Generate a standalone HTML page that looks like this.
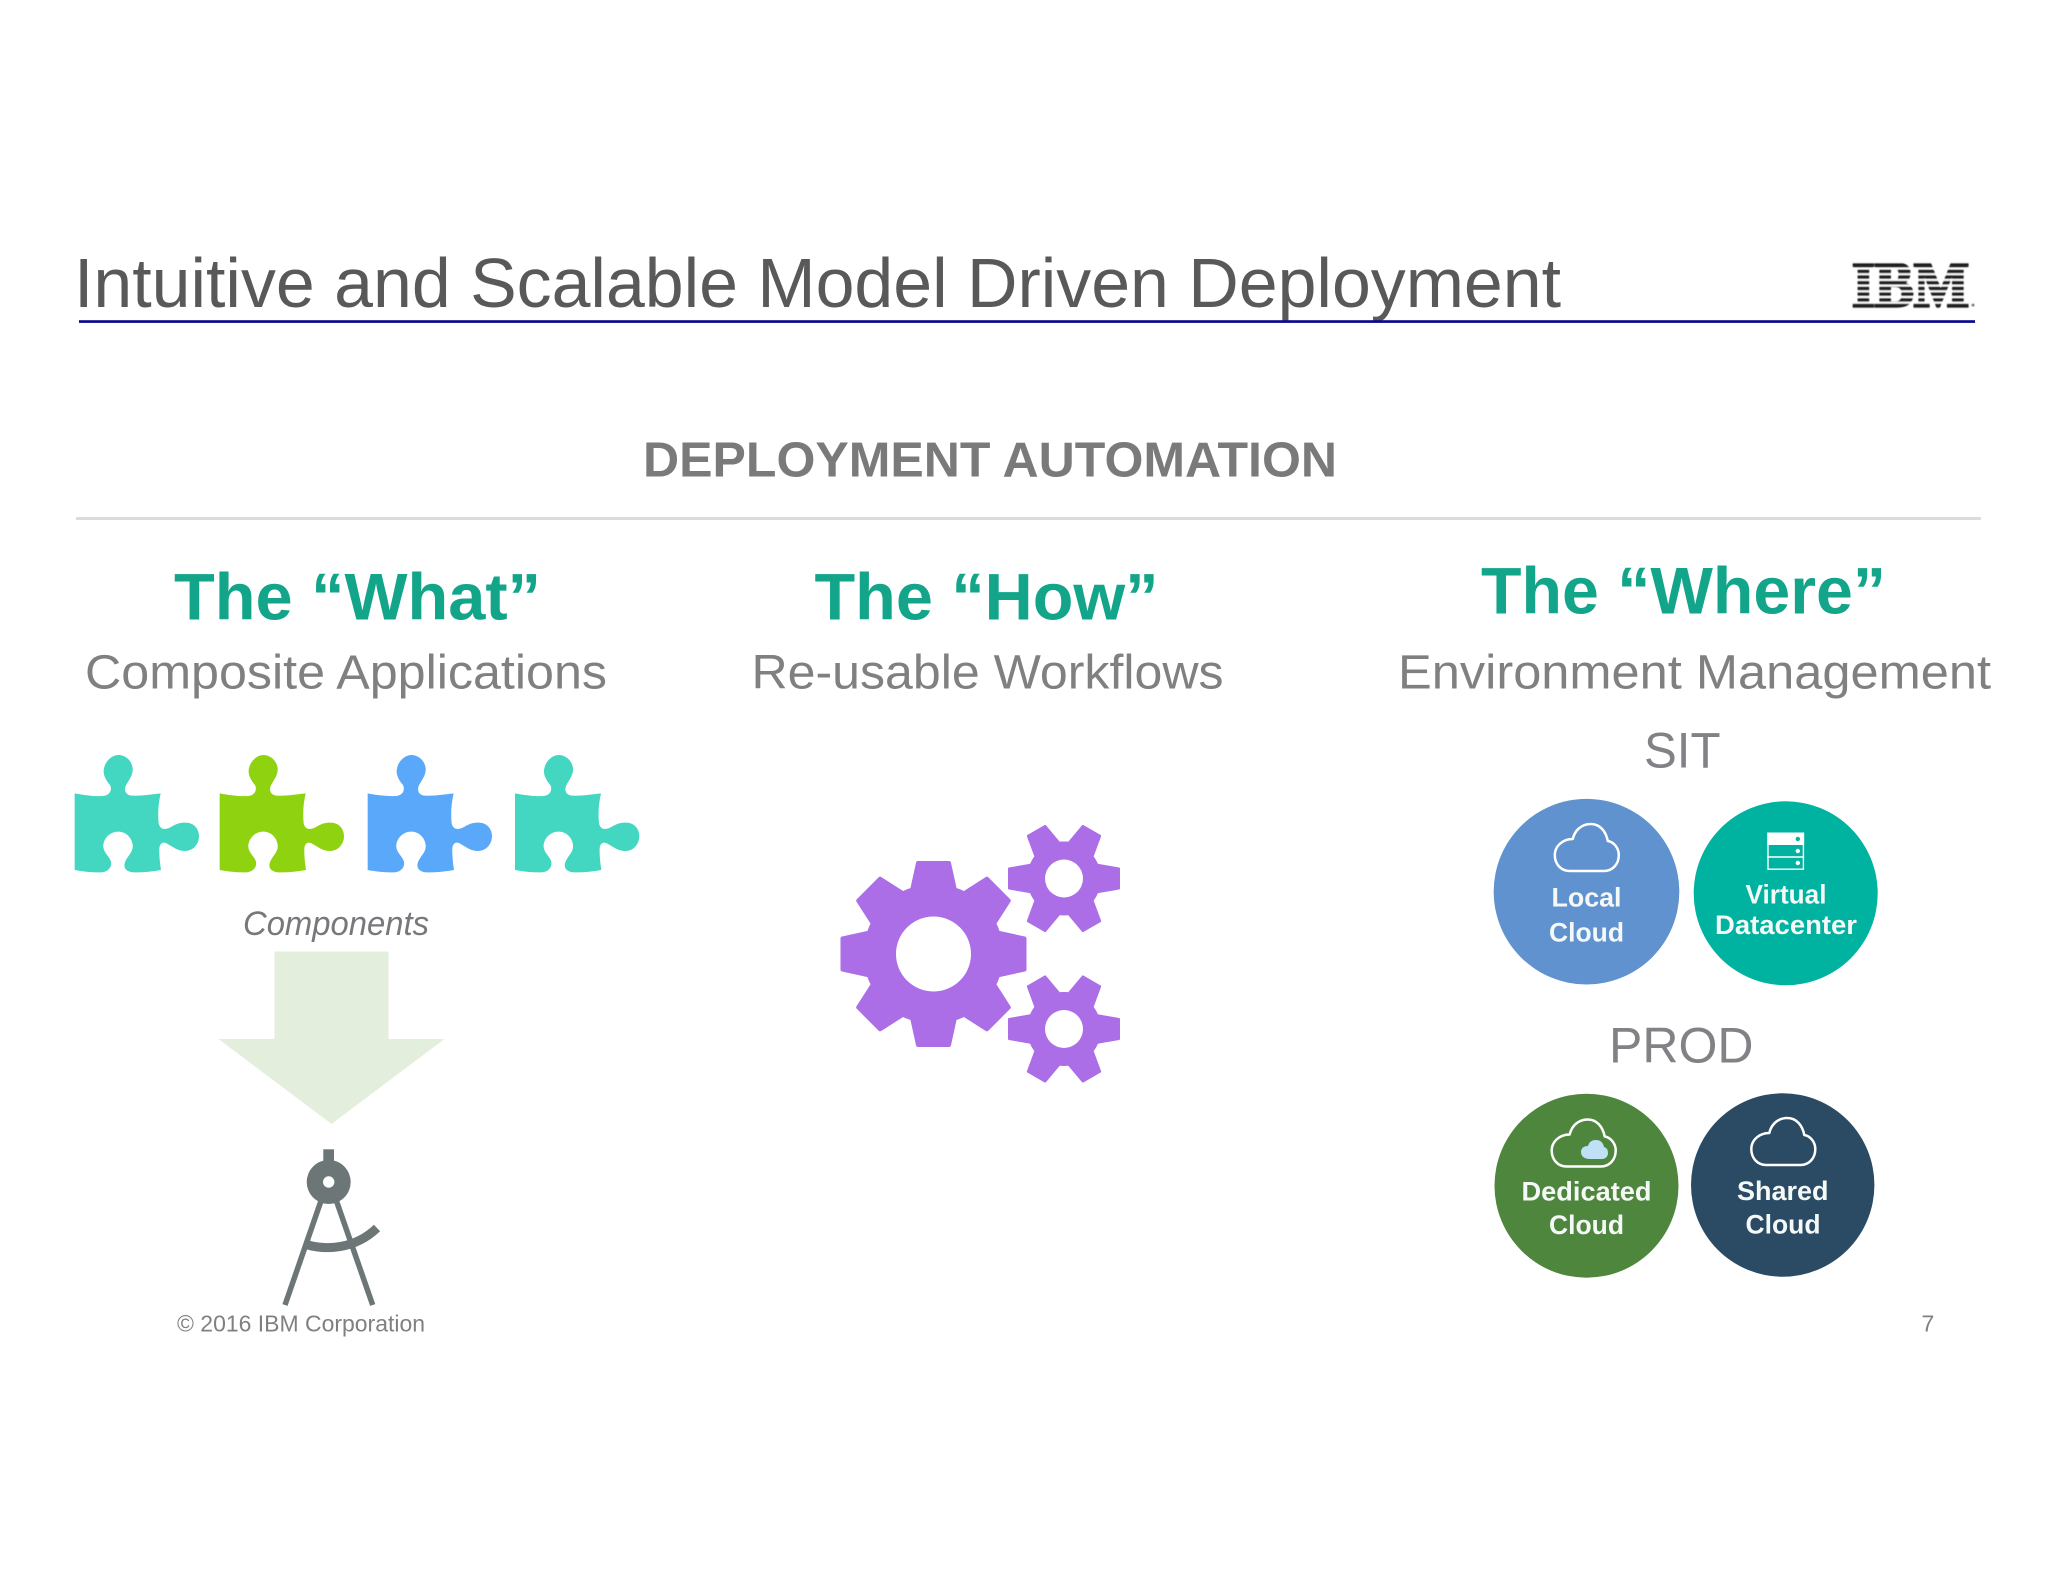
<!DOCTYPE html>
<html><head><meta charset="utf-8"><title>Intuitive and Scalable Model Driven Deployment</title>
<style>html,body{margin:0;padding:0;background:#fff}svg{display:block}text{font-family:"Liberation Sans",sans-serif}</style></head>
<body>
<svg width="2048" height="1582" viewBox="0 0 2048 1582" xmlns="http://www.w3.org/2000/svg">
<defs>
<filter id="bl" x="-5%" y="-5%" width="110%" height="110%"><feGaussianBlur stdDeviation="0.6"/></filter>
<path id="pz" d="M44 160C70 165 105 170 130 168C150 165 157 150 150 135C135 118 128 100 132 85C138 58 160 45 175 45C195 45 215 60 218 85C220 105 205 122 197 138C192 152 197 165 215 167C245 168 275 163 302 160C295 190 293 220 296 250C300 268 315 272 335 260C350 250 365 247 380 248C405 250 417 270 417 288C417 312 400 333 375 333C355 333 340 322 325 313C310 303 300 308 298 325C297 345 300 370 303 390C275 395 245 398 220 397C195 395 188 380 197 362C205 345 220 335 218 315C215 290 195 275 175 275C150 275 132 295 130 315C128 335 145 345 152 362C158 380 145 395 125 397C100 398 70 395 44 390Z"/>
<polygon id="t8" points="-21,-66 -15.500,-91 15.500,-91 21,-66" stroke="#ab6ee6" stroke-width="4" stroke-linejoin="round"/>
<polygon id="t6" points="-14,-32 -10,-55 10,-55 14,-32" stroke="#ab6ee6" stroke-width="2" stroke-linejoin="round"/>
<g id="bg" fill="#ab6ee6">
<circle r="70"/>
<use href="#t8"/><use href="#t8" transform="rotate(45)"/><use href="#t8" transform="rotate(90)"/><use href="#t8" transform="rotate(135)"/><use href="#t8" transform="rotate(180)"/><use href="#t8" transform="rotate(225)"/><use href="#t8" transform="rotate(270)"/><use href="#t8" transform="rotate(315)"/>
</g>
<g id="sg" fill="#ab6ee6">
<circle r="37"/>
<use href="#t6" transform="rotate(30)"/><use href="#t6" transform="rotate(90)"/><use href="#t6" transform="rotate(150)"/><use href="#t6" transform="rotate(210)"/><use href="#t6" transform="rotate(270)"/><use href="#t6" transform="rotate(330)"/>
</g>
<path id="cl" d="M16 48H50C59 48 65 41 65 32C65 25 60 19 54 18C52 8 46 1 37 1C28 1 21 7 19 16C9 16 1 23 1 32C1 41 7 48 16 48Z" fill="none" stroke="#fff" stroke-width="2.5" stroke-linejoin="round"/>
</defs>

<rect width="2048" height="1582" fill="#fff"/>

<text x="74" y="307" font-size="70" fill="#595959" textLength="1487" lengthAdjust="spacingAndGlyphs">Intuitive and Scalable Model Driven Deployment</text>
<rect x="79" y="320.200" width="1896" height="2.700" fill="#0a0a8c"/>

<g filter="url(#bl)">
<text x="1852" y="306.500" font-size="66" font-weight="bold" fill="#222" stroke="#222" stroke-width="3" textLength="117" lengthAdjust="spacingAndGlyphs" style="font-family:'Liberation Serif',serif">IBM</text>
<g fill="#fff">
<rect x="1846" y="258" width="130" height="5"/><rect x="1846" y="267.500" width="130" height="2"/><rect x="1846" y="273.200" width="130" height="2"/><rect x="1846" y="278.900" width="130" height="2"/><rect x="1846" y="284.600" width="130" height="2"/><rect x="1846" y="290.300" width="130" height="2"/><rect x="1846" y="296" width="130" height="2"/><rect x="1846" y="301.700" width="130" height="2"/><rect x="1846" y="308" width="130" height="3"/>
</g>
<circle cx="1973" cy="305" r="1.500" fill="#777"/>
</g>

<text x="643" y="476.500" font-size="49" font-weight="bold" fill="#7a7a7a" textLength="694" lengthAdjust="spacingAndGlyphs">DEPLOYMENT AUTOMATION</text>
<rect x="76" y="517" width="1905" height="3" fill="#dcdcdc"/>

<g font-size="66" font-weight="bold" fill="#12a58a">
<text x="174" y="619.500" textLength="367" lengthAdjust="spacingAndGlyphs">The “What”</text>
<text x="814.500" y="619.500" textLength="344" lengthAdjust="spacingAndGlyphs">The “How”</text>
<text x="1481" y="613.500" textLength="405" lengthAdjust="spacingAndGlyphs">The “Where”</text>
</g>
<g font-size="48" fill="#808080">
<text x="85" y="688.500" textLength="522" lengthAdjust="spacingAndGlyphs">Composite Applications</text>
<text x="751.500" y="688.500" textLength="472" lengthAdjust="spacingAndGlyphs">Re-usable Workflows</text>
<text x="1398" y="688.500" textLength="593" lengthAdjust="spacingAndGlyphs">Environment Management</text>
<text x="1644" y="767.500" font-size="50" fill="#808285" textLength="76.500" lengthAdjust="spacingAndGlyphs">SIT</text>
<text x="1609" y="1062.500" font-size="50" fill="#808285" textLength="144.500" lengthAdjust="spacingAndGlyphs">PROD</text>
</g>

<!-- puzzles -->
<g transform="translate(60 740) scale(.33333)">
<use href="#pz" fill="#43d6c0"/>
<use href="#pz" x="435" fill="#8fd20f"/>
<use href="#pz" x="879" fill="#5aa8f9"/>
<use href="#pz" x="1321" fill="#43d6c0"/>
</g>

<text x="243" y="935" font-size="34" font-style="italic" fill="#77787b" textLength="186" lengthAdjust="spacingAndGlyphs">Components</text>

<polygon points="274.500,951.500 388.500,951.500 388.500,1039 444.500,1039 331.500,1124 218.500,1039 274.500,1039" fill="#e4eedd"/>

<!-- compass -->
<g stroke="#6d7676" fill="none">
<rect x="323.300" y="1149.300" width="10.700" height="16" fill="#6d7676" stroke="none"/>
<line x1="320.700" y1="1201.700" x2="285" y2="1305" stroke-width="5.500"/>
<line x1="336.700" y1="1201.700" x2="372.700" y2="1305" stroke-width="5.500"/>
<path d="M306 1244.500C325 1250 354 1250 377 1228" stroke-width="9"/>
<circle cx="328.700" cy="1182" r="22" fill="#6d7676" stroke="none"/>
<circle cx="328.700" cy="1182" r="5.700" fill="#fff" stroke="none"/>
</g>

<text x="177" y="1331.500" font-size="23" fill="#808080" textLength="248" lengthAdjust="spacingAndGlyphs">© 2016 IBM Corporation</text>
<text x="1921.500" y="1331.500" font-size="23" fill="#808080">7</text>

<!-- gears -->
<use href="#bg" transform="translate(933.500 954)"/>
<circle cx="933.500" cy="954" r="37.500" fill="#fff"/>
<use href="#sg" transform="translate(1064 878.500)"/>
<circle cx="1064" cy="878.500" r="19" fill="#fff"/>
<use href="#sg" transform="translate(1064 1029)"/>
<circle cx="1064" cy="1029" r="19" fill="#fff"/>

<!-- circles -->
<circle cx="1586.500" cy="891.700" r="92.800" fill="#5f92cf"/>
<circle cx="1785.700" cy="893.300" r="92" fill="#00b2a0"/>
<circle cx="1586.500" cy="1185.700" r="92" fill="#4f863d"/>
<circle cx="1782.700" cy="1185" r="91.700" fill="#2a4b63"/>

<use href="#cl" x="1553.800" y="823"/>
<g transform="translate(1767.300 832.500)">
<rect x=".7" y=".7" width="35.400" height="36" fill="none" stroke="#fff" stroke-width="1.400"/>
<rect x="0" y="0" width="36.800" height="12.500" fill="#fff"/>
<line x1="0" y1="24.500" x2="36.800" y2="24.500" stroke="#fff" stroke-width="1.400"/>
<circle cx="30.500" cy="6.500" r="2.200" fill="#00b2a0"/>
<circle cx="30.500" cy="18.500" r="2.200" fill="#fff"/>
<circle cx="30.500" cy="30.500" r="2.200" fill="#fff"/>
</g>
<use href="#cl" x="1550.700" y="1118.500"/>
<path d="M1590 1160C1584 1160 1581 1157 1581 1153C1581 1149 1584 1147 1588 1147C1589 1143 1592 1141 1596 1141C1601 1141 1603 1144 1604 1148C1607 1149 1608 1151 1608 1154C1608 1158 1605 1160 1602 1160Z" fill="#bfe0f5" transform="translate(0 -1)"/>
<use href="#cl" x="1750.300" y="1117"/>

<g font-size="26.500" font-weight="bold" fill="#f4f8f6">
<text x="1551.500" y="906.700" textLength="70" lengthAdjust="spacingAndGlyphs">Local</text>
<text x="1549" y="941.300" textLength="75" lengthAdjust="spacingAndGlyphs">Cloud</text>
<text x="1745.500" y="903.500" textLength="81" lengthAdjust="spacingAndGlyphs">Virtual</text>
<text x="1715" y="934" textLength="142" lengthAdjust="spacingAndGlyphs">Datacenter</text>
<text x="1521.500" y="1200.500" textLength="130" lengthAdjust="spacingAndGlyphs">Dedicated</text>
<text x="1549" y="1234" textLength="75" lengthAdjust="spacingAndGlyphs">Cloud</text>
<text x="1737" y="1200" textLength="91.500" lengthAdjust="spacingAndGlyphs">Shared</text>
<text x="1745.500" y="1233.500" textLength="75" lengthAdjust="spacingAndGlyphs">Cloud</text>
</g>
</svg>
</body></html>
